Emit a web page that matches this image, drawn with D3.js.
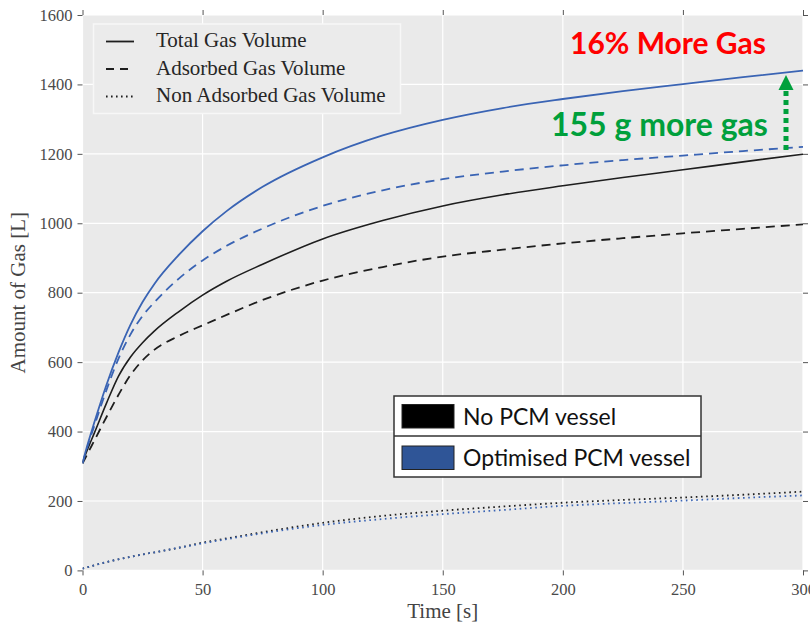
<!DOCTYPE html>
<html>
<head>
<meta charset="utf-8">
<script src="https://cdn.jsdelivr.net/npm/d3@7"></script>
<style>
  html, body { margin: 0; padding: 0; background: #fff; }
  svg { display: block; }
</style>
</head>
<body>
<svg id="chart" width="810" height="626"></svg>
<script>
// Time samples [s]
const times = [0, 2, 5, 10, 15, 20, 25, 30, 40, 50, 60, 75, 100, 125, 150, 175, 200, 225, 250, 275, 300];

// No PCM vessel [L]
const noPcmTotal     = [312, 347, 397, 482, 560, 615, 656, 690, 745, 793, 833, 882, 955, 1008, 1050, 1082, 1108, 1132, 1154, 1177, 1199];
const noPcmAdsorbed  = [308, 335, 375, 442, 506, 563, 605, 636, 675, 706, 736, 779, 835, 874, 904, 924, 942, 957, 971, 984, 997];
const noPcmFree      = [5, 9, 15, 24, 32, 39, 46, 52, 65, 80, 92, 110, 137, 157, 172, 184, 195, 203, 210, 218, 227];

// Optimised PCM vessel [L]
const pcmTotal       = [310, 360, 428, 535, 628, 708, 773, 826, 908, 977, 1035, 1105, 1190, 1253, 1298, 1332, 1358, 1381, 1401, 1421, 1440];
const pcmAdsorbed    = [308, 355, 418, 520, 610, 680, 733, 773, 840, 893, 935, 985, 1050, 1095, 1127, 1149, 1167, 1182, 1195, 1208, 1220];
const pcmFree        = [5, 9, 15, 24, 32, 39, 46, 52, 65, 78, 90, 107, 131, 148, 162, 174, 186, 194, 201, 209, 216];

// Axis ticks
const xTicks = [0, 50, 100, 150, 200, 250, 300];
const yTicks = [0, 200, 400, 600, 800, 1000, 1200, 1400, 1600];

// Legend entries
const styleLegend = ["Total Gas Volume", "Adsorbed Gas Volume", "Non Adsorbed Gas Volume"];
const vesselLegend = ["No PCM vessel", "Optimised PCM vessel"];

const BLACK = "#1e1e1e";
const BLUE = "#3a64b4";
const SWATCH_BLUE = "#2f5597";
const GREEN = "#00a03c";
const serif = "'Liberation Serif', 'DejaVu Serif', serif";
const sans = "Lato, 'Open Sans', sans-serif";

const svg = d3.select("#chart");
const x = d3.scaleLinear().domain([0, 300]).range([82.5, 803]);
const y = d3.scaleLinear().domain([0, 1600]).range([570.4, 15]);
const [x0, x1] = x.range();
const [yb, yt] = y.range();

// Plot panel
svg.append("rect")
  .attr("x", x0).attr("y", yt)
  .attr("width", x1 - x0).attr("height", yb - yt)
  .attr("fill", "#eaeaea");

svg.append("defs").append("clipPath").attr("id", "plotClip")
  .append("rect").attr("x", x0).attr("y", yt - 2).attr("width", x1 - x0 + 2).attr("height", yb - yt + 4);

// White grid
const grid = svg.append("g").attr("stroke", "#fff").attr("stroke-width", 1.2);
grid.selectAll("line.gx").data(xTicks).join("line")
  .attr("x1", d => x(d)).attr("x2", d => x(d)).attr("y1", yt).attr("y2", yb);
grid.selectAll("line.gy").data(yTicks).join("line")
  .attr("x1", x0).attr("x2", x1).attr("y1", d => y(d)).attr("y2", d => y(d));

// Axes: outward ticks on all four sides
const tickColor = "#555";
const fmt = d3.format("d");
function styleAxis(g) {
  g.select(".domain").remove();
  g.selectAll(".tick line").attr("stroke", tickColor).attr("stroke-width", 1);
  g.selectAll(".tick text").attr("fill", "#4a4a4a").attr("font-family", serif).attr("font-size", 16.5);
}
svg.append("g").attr("transform", `translate(0,${yb})`)
  .call(d3.axisBottom(x).tickValues(xTicks).tickFormat(fmt).tickSize(5).tickPadding(8))
  .call(styleAxis);
svg.append("g").attr("transform", `translate(${x0},0)`)
  .call(d3.axisLeft(y).tickValues(yTicks).tickFormat(fmt).tickSize(5).tickPadding(5))
  .call(styleAxis);
svg.append("g").attr("transform", `translate(0,${yt})`)
  .call(d3.axisTop(x).tickValues(xTicks).tickSize(5).tickFormat(""))
  .call(styleAxis);
svg.append("g").attr("transform", `translate(${x1},0)`)
  .call(d3.axisRight(y).tickValues(yTicks).tickSize(5).tickFormat(""))
  .call(styleAxis);

// Axis titles
svg.append("text")
  .attr("x", (x0 + x1) / 2).attr("y", 618)
  .attr("text-anchor", "middle")
  .attr("font-family", serif).attr("font-size", 21).attr("fill", "#444")
  .text("Time [s]");
svg.append("text")
  .attr("transform", `translate(25,${(yb + yt) / 2}) rotate(-90)`)
  .attr("text-anchor", "middle")
  .attr("font-family", serif).attr("font-size", 21).attr("fill", "#444")
  .text("Amount of Gas [L]");

// Curves
const line = d3.line()
  .x(d => x(d[0]))
  .y(d => y(d[1]))
  .curve(d3.curveMonotoneX);

const series = [
  { values: noPcmFree,     color: BLACK, dash: "1.6,3.6", width: 1.8 },
  { values: pcmFree,       color: BLUE,  dash: "1.6,3.6", width: 1.8 },
  { values: noPcmAdsorbed, color: BLACK, dash: "9,6",     width: 1.8 },
  { values: noPcmTotal,    color: BLACK, dash: null,      width: 1.6 },
  { values: pcmAdsorbed,   color: BLUE,  dash: "9,6",     width: 1.8 },
  { values: pcmTotal,      color: BLUE,  dash: null,      width: 1.8 }
];

const curves = svg.append("g").attr("clip-path", "url(#plotClip)");
curves.selectAll("path").data(series).join("path")
  .attr("d", s => line(times.map((t, i) => [t, s.values[i]])))
  .attr("fill", "none")
  .attr("stroke", s => s.color)
  .attr("stroke-width", s => s.width)
  .attr("stroke-dasharray", s => s.dash);

// Line-style legend
const lg = svg.append("g");
lg.append("rect")
  .attr("x", 93.5).attr("y", 24).attr("width", 307).attr("height", 89.5)
  .attr("fill", "#ebebeb").attr("stroke", "#f7f7f7").attr("stroke-width", 1.5);
const legendDash = [null, "8,6", "1.6,3.4"];
styleLegend.forEach((label, i) => {
  const cy = 41.5 + i * 27.5;
  lg.append("line")
    .attr("x1", 106).attr("x2", 134).attr("y1", cy).attr("y2", cy)
    .attr("stroke", BLACK).attr("stroke-width", 1.8)
    .attr("stroke-dasharray", legendDash[i]);
  lg.append("text")
    .attr("x", 156).attr("y", cy + 5.5)
    .attr("font-family", serif).attr("font-size", 21).attr("fill", "#262626")
    .text(label);
});

// Vessel legend
const vg = svg.append("g");
vg.append("rect")
  .attr("x", 394).attr("y", 396).attr("width", 307).attr("height", 81)
  .attr("fill", "#fff").attr("stroke", "#333").attr("stroke-width", 1.5);
vg.append("line")
  .attr("x1", 394).attr("x2", 701).attr("y1", 436).attr("y2", 436)
  .attr("stroke", "#333").attr("stroke-width", 1.5);
["#000", SWATCH_BLUE].forEach((c, i) => {
  vg.append("rect")
    .attr("x", 402).attr("y", 404.5 + i * 41.5).attr("width", 52).attr("height", 23.5)
    .attr("fill", c).attr("stroke", "#222").attr("stroke-width", 1);
  vg.append("text")
    .attr("x", 463).attr("y", 425 + i * 40.5)
    .attr("font-family", sans).attr("font-size", 23).attr("fill", "#111")
    .text(vesselLegend[i]);
});

// Annotations
svg.append("text")
  .attr("x", 570).attr("y", 54)
  .attr("font-family", sans).attr("font-weight", "bold").attr("font-size", 30)
  .attr("fill", "#ff0000")
  .text("16% More Gas");
svg.append("text")
  .attr("x", 551).attr("y", 136)
  .attr("font-family", sans).attr("font-weight", "bold").attr("font-size", 32)
  .attr("fill", GREEN)
  .text("155 g more gas");

// Upward arrow from the optimised adsorbed curve to the optimised total curve
const ax = 786;
svg.append("line")
  .attr("x1", ax).attr("x2", ax).attr("y1", 150).attr("y2", 89)
  .attr("stroke", GREEN).attr("stroke-width", 5)
  .attr("stroke-dasharray", "5,4");
svg.append("path")
  .attr("d", `M${ax},75 L${ax - 7.5},90 L${ax + 7.5},90 Z`)
  .attr("fill", GREEN);
</script>
</body>
</html>
